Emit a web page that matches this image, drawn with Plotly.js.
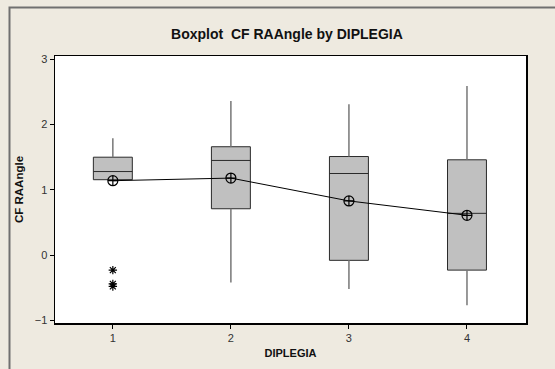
<!DOCTYPE html>
<html>
<head>
<meta charset="utf-8">
<script src="https://cdn.plot.ly/plotly-3.0.1.min.js"></script>
<style>html,body{margin:0;padding:0;background:#EEEAE0;}#chart{width:555px;height:369px;}</style>
</head>
<body>
<div id="chart"></div>
<script>
// Data
const groups = [1, 2, 3, 4];
const tickLabels = ['1', '2', '3', '4'];
const q1 = [1.155, 0.71, -0.08, -0.23];
const median = [1.28, 1.45, 1.25, 0.64];
const q3 = [1.50, 1.66, 1.51, 1.46];
const lowerWhisker = [1.155, -0.42, -0.52, -0.77];
const upperWhisker = [1.79, 2.36, 2.31, 2.59];
const means = [1.14, 1.18, 0.83, 0.61];
const outlierX = [1, 1, 1];
const outlierY = [-0.23, -0.44, -0.48];

// Whisker segments built from the arrays
const wx = [], wy = [];
groups.forEach((g, i) => {
  wx.push(g, g, null, g, g, null);
  wy.push(q3[i], upperWhisker[i], null, lowerWhisker[i], q1[i], null);
});

const font = 'Liberation Sans, Arial, sans-serif';

const traces = [
  {type: 'scatter', mode: 'lines', x: wx, y: wy, line: {color: '#777777', width: 1.5},
   hoverinfo: 'skip', showlegend: false, connectgaps: false},
  {type: 'box', x: groups, q1: q1, median: median, q3: q3,
   lowerfence: q1, upperfence: q3, width: 0.33, whiskerwidth: 0,
   fillcolor: '#C0C0C0', line: {color: '#2a2a2a', width: 1}, boxpoints: false, showlegend: false},
  {type: 'scatter', mode: 'lines+markers', x: groups, y: means,
   line: {color: '#000000', width: 1},
   marker: {symbol: 'circle-cross-open', size: 10, color: '#000000', line: {width: 1.2, color: '#000000'}},
   showlegend: false},
  {type: 'scatter', mode: 'markers', x: outlierX, y: outlierY,
   marker: {symbol: 'asterisk-open', size: 7, color: '#000000', line: {width: 1.2, color: '#000000'}},
   showlegend: false}
];

const layout = {
  width: 555, height: 369,
  paper_bgcolor: '#EEEAE0', plot_bgcolor: '#FFFFFF',
  margin: {l: 55, r: 29, t: 56, b: 46, pad: 0},
  font: {family: font, size: 11, color: '#333333'},
  showlegend: false,
  title: {text: '<b>Boxplot  CF RAAngle by DIPLEGIA</b>', x: 0.517, xref: 'container',
          y: 0.908, yref: 'container', yanchor: 'middle', xanchor: 'center',
          font: {family: font, size: 14, color: '#111111'}},
  xaxis: {range: [0.51, 4.5], tickvals: groups, ticktext: tickLabels, ticks: 'outside', ticklen: 4,
          tickcolor: '#000', showgrid: false, zeroline: false, showline: true, mirror: true,
          linecolor: '#000', linewidth: 1.5, tickfont: {family: font, size: 11, color: '#333'},
          title: {text: '<b>DIPLEGIA</b>', standoff: 6, font: {family: font, size: 11, color: '#111'}}},
  yaxis: {range: [-1.04, 3.05], tickvals: [-1, 0, 1, 2, 3], ticks: 'outside', ticklen: 4,
          tickcolor: '#000', showgrid: false, zeroline: false, showline: true, mirror: true,
          linecolor: '#000', linewidth: 1.5, tickfont: {family: font, size: 11, color: '#333'},
          title: {text: '<b>CF RAAngle</b>', standoff: 8, font: {family: font, size: 11.5, color: '#111'}}},
  shapes: [
    {type: 'rect', xref: 'paper', yref: 'paper', x0: -0.0966, x1: 1.2, y0: -0.3, y1: 1.182,
     line: {color: '#707070', width: 2}, fillcolor: 'rgba(0,0,0,0)', layer: 'above'}
  ]
};

Plotly.newPlot('chart', traces, layout, {displayModeBar: false, staticPlot: true});
</script>
</body>
</html>
